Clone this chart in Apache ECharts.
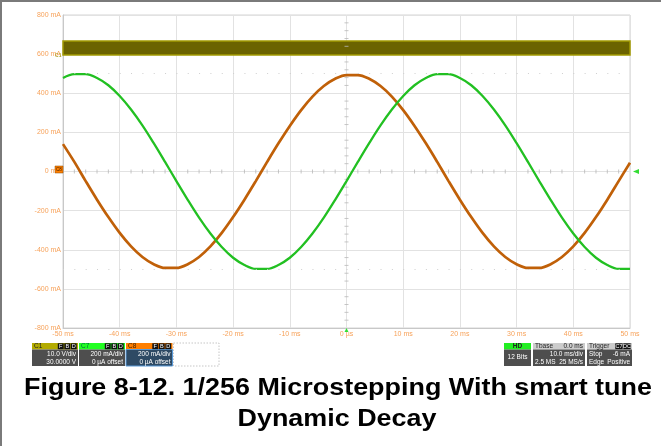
<!DOCTYPE html>
<html>
<head>
<meta charset="utf-8">
<script src="https://cdn.jsdelivr.net/npm/echarts@6/dist/echarts.min.js"></script>
<style>
html,body{margin:0;padding:0;background:#fff;}
#chart{width:661px;height:446px;}
</style>
</head>
<body>
<div id="chart"></div>
<script>
// ---- data ----
const times = [-50,-48,-46,-44,-42,-40,-38,-36,-34,-32,-30,-28,-26,-24,-22,-20,-18,-16,-14,-12,-10,-8,-6,-4,-2,0,2,4,6,8,10,12,14,16,18,20,22,24,26,28,30,32,34,36,38,40,42,44,46,48,50];
const c7Green = [478,498,498,478,441,386,317,236,145,49,-49,-145,-236,-317,-386,-441,-478,-498,-498,-478,-441,-386,-317,-236,-145,-49,49,145,236,317,386,441,478,498,498,478,441,386,317,236,145,49,-49,-145,-236,-317,-386,-441,-478,-498,-498];
const c8Orange = [140,49,-49,-144,-233,-314,-383,-437,-474,-493,-493,-474,-437,-383,-314,-233,-144,-49,49,144,233,314,383,437,474,493,493,474,437,383,314,233,144,49,-49,-144,-233,-314,-383,-437,-474,-493,-493,-474,-437,-383,-314,-233,-144,-49,45];
const c1Band = [595, 667];           // mA-scale extent of the C1 digital trace band
const refDots = [500, -500];         // faint dotted reference rows
const xTicks = [-50,-40,-30,-20,-10,0,10,20,30,40,50];
const yTicks = [-800,-600,-400,-200,0,200,400,600,800];
const xMinor = [-48,-46,-44,-42,-38,-36,-34,-32,-28,-26,-24,-22,-18,-16,-14,-12,-8,-6,-4,-2,2,4,6,8,12,14,16,18,22,24,26,28,32,34,36,38,42,44,46,48];
const yMinor = [-760,-720,-680,-640,-560,-520,-480,-440,-360,-320,-280,-240,-160,-120,-80,-40,40,80,120,160,240,280,320,360,440,480,520,560,640,680,720,760];
const captionLines = ['Figure 8-12. 1/256 Microstepping With smart tune', 'Dynamic Decay'];

const FONT = '"Liberation Sans", Arial, sans-serif';
const labelColor = '#f7a25a';

function pairs(xs, ys){ return xs.map((x,i)=>[x, ys[i]]); }

// ---- info boxes (oscilloscope descriptors) ----
function box(o){
  const els = [];
  const hy = 343, hh = 6.5, by = 349.5, bh = 16.5;
  els.push({type:'rect', shape:{x:o.x, y:hy, width:o.w, height:hh}, style:{fill:o.head}});
  els.push({type:'rect', shape:{x:o.x, y:by, width:o.w, height:bh}, style:{fill:o.body, stroke:o.bodyStroke||null, lineWidth:o.bodyStroke?1:0}});
  if (o.title) els.push({type:'text', style:{text:o.title, x:o.x+2, y:hy+hh/2, verticalAlign:'middle', fill:o.headText||'#222', font:'6.5px '+FONT}});
  if (o.headRight) els.push({type:'text', style:{text:o.headRight, x:o.x+o.w-2, y:hy+hh/2, align:'right', verticalAlign:'middle', fill:'#222', font:'6.5px '+FONT}});
  if (o.headCenter) els.push({type:'text', style:{text:o.headCenter, x:o.x+o.w/2, y:hy+hh/2, align:'center', verticalAlign:'middle', fill:'#222', font:'bold 6.5px '+FONT}});
  (o.badges||[]).forEach((b,i)=>{
    const bx = o.x + o.w - 1 - (o.badges.length - i) * (o.bw||6.5);
    els.push({type:'rect', shape:{x:bx+0.3, y:hy+0.3, width:(o.bw||6.5)-0.6, height:hh-0.6}, style:{fill:'#111'}});
    els.push({type:'text', style:{text:b, x:bx+(o.bw||6.5)/2, y:hy+hh/2, align:'center', verticalAlign:'middle', fill:'#fff', font:'5.5px '+FONT}});
  });
  (o.lines||[]).forEach((ln,i)=>{
    const y = by + 4.5 + i*8;
    if (ln.r) els.push({type:'text', style:{text:ln.r, x:o.x+o.w-2, y:y, align:'right', verticalAlign:'middle', fill:'#fff', font:'6.5px '+FONT}});
    if (ln.l) els.push({type:'text', style:{text:ln.l, x:o.x+2, y:y, verticalAlign:'middle', fill:'#fff', font:'6.5px '+FONT}});
    if (ln.c) els.push({type:'text', style:{text:ln.c, x:o.x+o.w/2, y:y+3, align:'center', verticalAlign:'middle', fill:'#fff', font:'6.5px '+FONT}});
  });
  return els;
}

let graphics = [];
graphics.push({type:'line', shape:{x1:0, y1:1, x2:661, y2:1}, style:{stroke:'#7a7a7a', lineWidth:2}});
graphics.push({type:'line', shape:{x1:1, y1:0, x2:1, y2:446}, style:{stroke:'#7a7a7a', lineWidth:2}});
graphics = graphics.concat(
  box({x:32, w:46, head:'#b3ab00', title:'C1', headText:'#222', badges:['F','B','D'], body:'#4e4e4e', lines:[{r:'10.0 V/div'},{r:'30.0000 V'}]}),
  box({x:79, w:46, head:'#22ff22', title:'C7', headText:'#064', badges:['F','B','D'], body:'#4e4e4e', lines:[{r:'200 mA/div'},{r:'0 µA offset'}]}),
  box({x:126, w:46.5, head:'#ff7f00', title:'C8', headText:'#402000', badges:['F','B','D'], body:'#2e4a64', bodyStroke:'#5a9ad8', lines:[{r:'200 mA/div'},{r:'0 µA offset'}]}),
  box({x:504, w:27, head:'#22ee22', headCenter:'HD', body:'#4e4e4e', lines:[{c:'12 Bits'}]}),
  box({x:533, w:52, head:'#cccccc', title:'Tbase', headRight:'0.0 ms', body:'#4e4e4e', lines:[{r:'10.0 ms/div'},{l:'2.5 MS', r:'25 MS/s'}]}),
  box({x:587, w:45, head:'#cccccc', title:'Trigger', badges:['C7','DC'], bw:8, body:'#4e4e4e', lines:[{l:'Stop', r:'-6 mA'},{l:'Edge', r:'Positive'}]})
);
graphics.push({type:'rect', shape:{x:173.5, y:343, width:45.5, height:23}, style:{fill:null, stroke:'#b8b8b8', lineWidth:0.8, lineDash:[1.5,1.5]}});
graphics.push({type:'text', x:338, y:389, scaleX:1.17, style:{text:captionLines[0], x:0, y:0, align:'center', verticalAlign:'middle', fill:'#000', font:'bold 23px '+FONT}});
graphics.push({type:'text', x:337, y:420, scaleX:1.17, style:{text:captionLines[1], x:0, y:0, align:'center', verticalAlign:'middle', fill:'#000', font:'bold 23px '+FONT}});

const chart = echarts.init(document.getElementById('chart'), null, {renderer:'canvas'});
chart.setOption({
  animation:false,
  backgroundColor:'#ffffff',
  grid:{left:63, right:31, top:15, bottom:118, show:true, borderColor:'#d4d4d4', borderWidth:1},
  xAxis:{
    type:'value', min:xTicks[0], max:xTicks[xTicks.length-1], interval:10,
    axisLine:{show:true, onZero:false, lineStyle:{color:'#c8c8c8'}},
    axisTick:{show:false},
    splitLine:{show:true, lineStyle:{color:'#e2e2e2', width:1}},
    axisLabel:{color:labelColor, fontSize:7, fontFamily:FONT, margin:3,
      formatter:v=> v===0 ? '0 µs' : v+' ms'}
  },
  yAxis:{
    type:'value', min:yTicks[0], max:yTicks[yTicks.length-1], interval:200,
    axisLine:{show:true, onZero:false, lineStyle:{color:'#c8c8c8'}},
    axisTick:{show:false},
    splitLine:{show:true, lineStyle:{color:'#e2e2e2', width:1}},
    axisLabel:{color:labelColor, fontSize:7, fontFamily:FONT, margin:2,
      formatter:v=> v+' mA'}
  },
  series:[
    {
      name:'C1', type:'line', data:[], silent:true,
      markArea:{silent:true, itemStyle:{color:'#6b6300', borderColor:'#a39b00', borderWidth:1.5},
        data:[[{xAxis:xTicks[0], yAxis:c1Band[0]},{xAxis:xTicks[xTicks.length-1], yAxis:c1Band[1]}]]},
      markPoint:{silent:true, symbol:'rect', symbolSize:1, data:[{coord:[xTicks[0], (c1Band[0]+c1Band[1])/2 - 40]}],
        label:{show:true, formatter:'C1', position:'left', distance:1, color:'#9a9200', fontSize:5, fontFamily:FONT}, itemStyle:{color:'rgba(0,0,0,0)'}}
    },
    {
      name:'minorX', type:'scatter', data:xMinor.map(x=>[x,0]), symbol:'rect', symbolSize:[1,4], silent:true,
      itemStyle:{color:'#b8b8b8'}, z:1,
      markLine:{silent:true, symbol:'none', label:{show:false},
        lineStyle:{color:'#cfcfcf', type:[1,10.34], width:1},
        data:refDots.map(v=>({yAxis:v}))}
    },
    {
      name:'minorY', type:'scatter', data:yMinor.map(y=>[0,y]), symbol:'rect', symbolSize:[4,1], silent:true,
      itemStyle:{color:'#b8b8b8'}, z:1
    },
    {
      name:'C8', type:'line', data:pairs(times, c8Orange), smooth:0.35, symbol:'none',
      lineStyle:{color:'#c06008', width:2.7}, z:3,
      markPoint:{silent:true, symbol:'rect', symbolSize:[8,7], symbolOffset:[-4,-2],
        data:[{coord:[xTicks[0], 0]}], itemStyle:{color:'#ff7f00', borderColor:'#8a4a00', borderWidth:0.5},
        label:{show:true, formatter:'C8', color:'#402000', fontSize:4.5, fontFamily:FONT}}
    },
    {
      name:'C7', type:'line', data:pairs(times, c7Green), smooth:0.35, symbol:'none',
      lineStyle:{color:'#22c022', width:2.3}, z:4,
      markPoint:{silent:true, symbol:'triangle', symbolSize:[5,6], symbolRotate:90, symbolOffset:[6,0],
        data:[{coord:[xTicks[xTicks.length-1], 0]}, {coord:[0, yTicks[0]], symbolRotate:0, symbolSize:[4,4], symbolOffset:[0,2]}],
        itemStyle:{color:'#33dd33'}, label:{show:false}}
    }
  ],
  graphic:graphics
});
</script>
</body>
</html>
